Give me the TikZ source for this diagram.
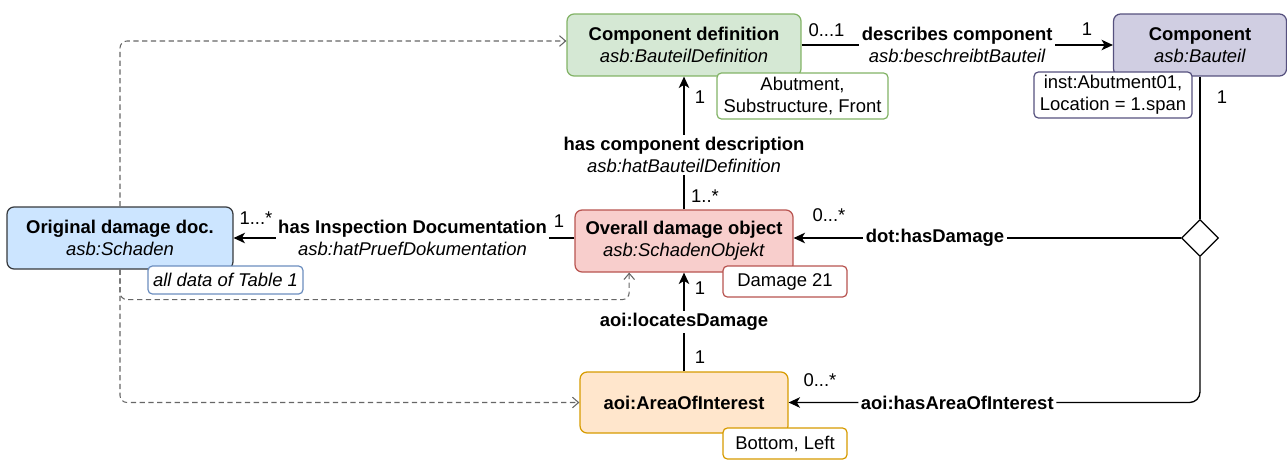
\documentclass[tikz,border=0pt]{standalone}
\usepackage{fontspec}
\setmainfont{Liberation Sans}
\usetikzlibrary{arrows.meta,shapes.geometric,calc}
\newcommand{\dfont}{\fontsize{10.5pt}{12.5pt}\selectfont}
\definecolor{defFill}{HTML}{D5E8D4}
\definecolor{defLine}{HTML}{82B366}
\definecolor{compFill}{HTML}{D0CEE2}
\definecolor{compLine}{HTML}{56517E}
\definecolor{dmgFill}{HTML}{F8CECC}
\definecolor{dmgLine}{HTML}{B85450}
\definecolor{docFill}{HTML}{CCE5FF}
\definecolor{docLine}{HTML}{36393D}
\definecolor{aoiFill}{HTML}{FFE6CC}
\definecolor{aoiLine}{HTML}{D79B00}
\definecolor{noteBlue}{HTML}{6C8EBF}
\definecolor{depGray}{HTML}{666666}
\begin{document}
\begin{tikzpicture}[x=0.02cm, y=-0.02cm, font=\dfont,
        cls/.style={draw, rounded corners=4pt, line width=0.7pt, align=center, inner sep=0pt, minimum height=1.24cm},
        note/.style={draw, fill=white, rounded corners=2.5pt, line width=0.7pt, align=center, inner sep=0pt},
        assoc/.style={line width=0.75pt, -{Stealth[length=6.5pt, width=6pt, inset=1.8pt]}},
        dep/.style={draw=depGray, line width=0.6pt, dash pattern=on 3pt off 2pt, rounded corners=4pt,
            -{Straight Barb[length=3.5pt, width=6pt]}},
        rel/.style={fill=white, align=center, inner sep=1.5pt},
        mult/.style={inner sep=0pt}]
        \def \notew {2.48cm}  % width of the small notes
        \def \noteh {0.62cm}  % height of the small notes
        \useasboundingbox (0,0) rectangle (1287,460);
        % classes
        \node[cls, fill=defFill, draw=defLine, minimum width=4.68cm] (compdef) at (684,45)
            {\textbf{Component definition}\\\textit{asb:BauteilDefinition}};
        \node[cls, fill=compFill, draw=compLine, minimum width=3.46cm] (comp) at (1200,45)
            {\textbf{Component}\\\textit{asb:Bauteil}};
        \node[cls, fill=dmgFill, draw=dmgLine, minimum width=4.36cm] (dmgobj) at (684,241)
            {\textbf{Overall damage object}\\\textit{asb:SchadenObjekt}};
        \node[cls, fill=docFill, draw=docLine, minimum width=4.52cm] (origdoc) at (120,238)
            {\textbf{Original damage doc.}\\\textit{asb:Schaden}};
        \node[cls, fill=aoiFill, draw=aoiLine, minimum width=4.16cm, minimum height=1.22cm] (aoi) at (684,402.5)
            {\textbf{aoi:AreaOfInterest}};
        % hub of the damage relations
        \node[diamond, draw, fill=white, line width=0.75pt, minimum width=0.74cm, minimum height=0.74cm,
            inner sep=0pt] (hub) at (1200,238) {};
        % notes
        \node[note, draw=defLine, minimum width=3.42cm, minimum height=0.92cm] (defnote) at (802.5,96)
            {Abutment,\\Substructure, Front};
        \node[note, draw=compLine, minimum width=3.16cm, minimum height=0.92cm] (compnote) at (1113,95)
            {inst:Abutment01,\\Location = 1.span};
        \node[note, draw=dmgLine, minimum width=\notew, minimum height=\noteh] (dmgnote) at (785,281.5)
            {Damage 21};
        \node[note, draw=noteBlue, minimum width=3.1cm, minimum height=0.56cm] (docnote) at (225.5,280)
            {\textit{all data of Table 1}};
        \node[note, draw=aoiLine, minimum width=\notew, minimum height=\noteh] (aoinote) at (785,443.5)
            {Bottom, Left};
        % dashed links of the original documentation
        \draw[dep] (origdoc.north) |- ($(compdef.west)+(0,-4)$);
        \draw[dep] (origdoc.south) -- ++(0,30) -| ($(dmgobj.south west)!.25!(dmgobj.south east)$);
        \draw[dep] (origdoc.south) |- (aoi.west);
        % associations
        \draw[assoc] (compdef.east) -- node[rel] {\textbf{describes component}\\\textit{asb:beschreibtBauteil}} (comp.west);
        \draw[assoc] (dmgobj.north) -- node[rel, pos=0.41]
            {\textbf{has component description}\\\textit{asb:hatBauteilDefinition}} (compdef.south);
        \draw[assoc] (origdoc.east -| dmgobj.west) -- node[rel, pos=0.475]
            {\textbf{has Inspection Documentation}\\\textit{asb:hatPruefDokumentation}} (origdoc.east);
        \draw[assoc] (aoi.north) -- node[rel] {\textbf{aoi:locatesDamage}} (dmgobj.south);
        \draw[line width=0.75pt] (comp.south) -- (hub.north);
        \draw[assoc] (hub.west) -- node[rel, pos=0.635] {\textbf{dot:hasDamage}} (hub.west -| dmgobj.east);
        \draw[assoc, rounded corners=6pt] (hub.south) |- node[rel, pos=0.795] {\textbf{aoi:hasAreaOfInterest}} (aoi.east);
        % multiplicities
        \node[mult] (m1) at (826.5,30) {0...1};
        \node[mult] (m2) at (1087,29) {1};
        \node[mult] (m3) at (1222,97) {1};
        \node[mult] (m4) at (700,97) {1};
        \node[mult] (m5) at (705,196) {1..*};
        \node[mult] (m6) at (559,221) {1};
        \node[mult] (m7) at (256,218) {1...*};
        \node[mult] (m8) at (829,215) {0...*};
        \node[mult] (m9) at (700,288) {1};
        \node[mult] (m10) at (700,357) {1};
        \node[mult] (m11) at (820,380) {0...*};
\end{tikzpicture}
\end{document}
